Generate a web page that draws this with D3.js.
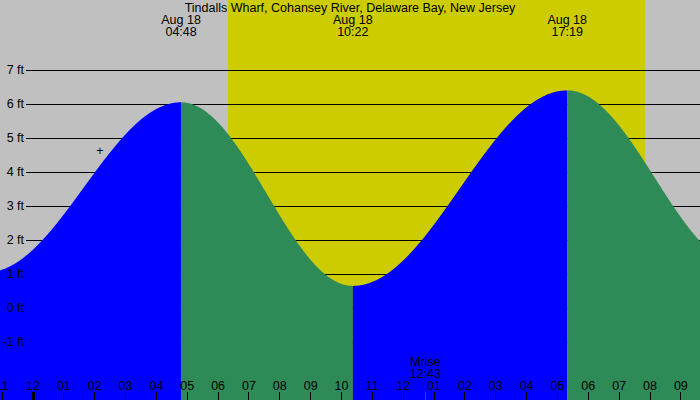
<!DOCTYPE html><html><head><script src="https://cdn.jsdelivr.net/npm/d3@7"></script>
<style>body{margin:0}text{font-family:"Liberation Sans",Arial,sans-serif;font-size:12.5px}</style></head><body><svg id="c" width="700" height="400" shape-rendering="crispEdges"></svg>
<script>
const title="Tindalls Wharf, Cohansey River, Delaware Bay, New Jersey";
// extremes: hours since midnight Aug 18, height ft
const extremeHours=[-1.5,4.8,10.367,17.317,23.0];
const extremeFeet=[1.05,6.05,0.65,6.4,1.25];
const labeledExtremes=[{h:4.8,d:"Aug 18",t:"04:48"},{h:10.367,d:"Aug 18",t:"10:22"},{h:17.317,d:"Aug 18",t:"17:19"}];
const sunrise=6.32,sunset=19.84,moonrise=12.717;
const ftTicks=[-1,0,1,2,3,4,5,6,7];
const hourLabels=["11","12","01","02","03","04","05","06","07","08","09","10","11","12","01","02","03","04","05","06","07","08","09"];
const x=d3.scaleLinear().domain([0,1]).range([33,63.85]);
const y=d3.scaleLinear().domain([0,7]).range([308,70]);
const svg=d3.select("#c");
svg.append("rect").attr("width",700).attr("height",400).attr("fill","#c0c0c0");
svg.append("rect").attr("x",x(sunrise)).attr("width",x(sunset)-x(sunrise)).attr("height",400).attr("fill","#cccc00");
ftTicks.forEach(f=>svg.append("line").attr("x1",26).attr("x2",700).attr("y1",Math.round(y(f))+0.5).attr("y2",Math.round(y(f))+0.5).attr("stroke","#000"));
function tide(h){for(let i=0;i<extremeHours.length-1;i++){const a=extremeHours[i],b=extremeHours[i+1];if(h>=a&&h<=b){const f=(h-a)/(b-a);return extremeFeet[i]+(extremeFeet[i+1]-extremeFeet[i])*(1-Math.cos(Math.PI*f))/2;}}return extremeFeet[0];}
const h0=x.invert(0),h1=x.invert(700);
const bounds=[h0,4.8,10.367,17.317,h1];
const area=d3.area().x(d=>x(d)).y0(400).y1(d=>y(tide(d)));
for(let i=0;i<4;i++){const pts=d3.range(bounds[i],bounds[i+1],0.02).concat([bounds[i+1]]);
svg.append("path").attr("d",area(pts)).attr("fill",i%2==0?"#0000ff":"#2e8b57").attr("shape-rendering","geometricPrecision");}
ftTicks.forEach(f=>svg.append("text").attr("x",24).attr("y",y(f)+4).attr("text-anchor","end").text(f+" ft"));
svg.append("text").attr("x",350).attr("y",12).attr("text-anchor","middle").text(title);
labeledExtremes.forEach(e=>{svg.append("text").attr("x",x(e.h)).attr("y",24).attr("text-anchor","middle").text(e.d);
svg.append("text").attr("x",x(e.h)).attr("y",36).attr("text-anchor","middle").text(e.t);});
svg.append("text").attr("x",x(moonrise)).attr("y",366).attr("text-anchor","middle").text("Mrise");
svg.append("text").attr("x",x(moonrise)).attr("y",378).attr("text-anchor","middle").text("12:43");
svg.append("line").attr("x1",x(moonrise)).attr("x2",x(moonrise)).attr("y1",392).attr("y2",400).attr("stroke","#f00");
hourLabels.forEach((l,i)=>{const h=i-1;svg.append("text").attr("x",x(h)).attr("y",390).attr("text-anchor","middle").text(l);
svg.append("line").attr("x1",x(h)).attr("x2",x(h)).attr("y1",392).attr("y2",400).attr("stroke","#000").attr("stroke-width",h==0?3:1);});
svg.append("text").attr("x",x(2.17)).attr("y",y(4.65)+5).attr("text-anchor","middle").attr("font-size","15px").text("+");
</script></body></html>
